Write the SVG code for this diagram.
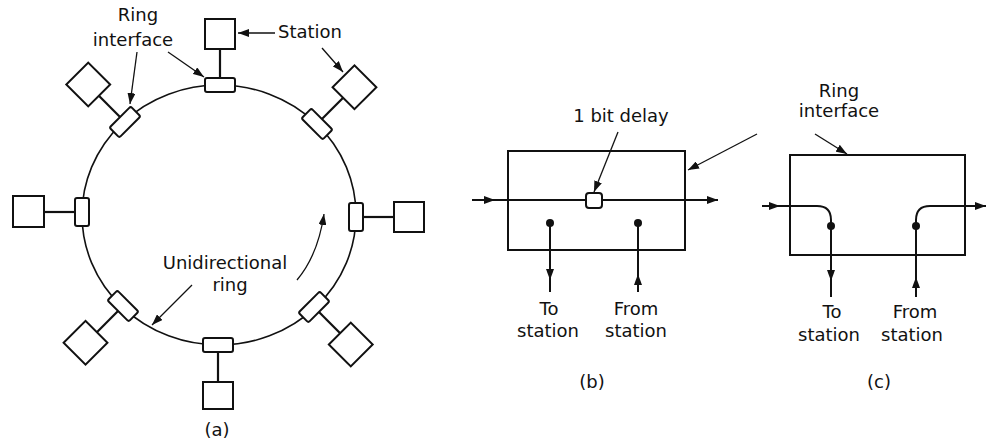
<svg xmlns="http://www.w3.org/2000/svg" width="990" height="445" viewBox="0 0 990 445">
<defs>
<style>
.t{font-family:"DejaVu Sans","Liberation Sans",sans-serif;font-size:18px;fill:#111}
.m{text-anchor:middle}
.ring{fill:none;stroke:#111;stroke-width:1.6}
.ifc{fill:#fff;stroke:#111;stroke-width:2}
.st{fill:#fff;stroke:#111;stroke-width:2}
.lnk{stroke:#111;stroke-width:2.2}
.ld{fill:none;stroke:#111;stroke-width:1.3}
.ar{fill:none;stroke:#111;stroke-width:2}
.box{fill:none;stroke:#111;stroke-width:2}
.dot{fill:#111}
</style>
<marker id="ah" markerUnits="userSpaceOnUse" markerWidth="11" markerHeight="8" refX="11" refY="4" orient="auto"><path d="M0,0 L11,4 L0,8 z" fill="#111"/></marker>
</defs>
<rect width="990" height="445" fill="#fff"/>

<g id="ring"><ellipse class="ring" cx="219" cy="215" rx="137" ry="130"/></g>

<g id="station-top" transform="translate(220,85)"><line class="lnk" x1="0" y1="-7" x2="0" y2="-36"/><rect class="ifc" x="-15" y="-7" width="30" height="14" rx="2"/><rect class="st" x="-15" y="-66" width="30" height="30"/></g>
<g id="station-upper-right" transform="translate(317,124) rotate(45)"><line class="lnk" x1="0" y1="-7" x2="0" y2="-37"/><rect class="ifc" x="-15" y="-7" width="30" height="14" rx="2"/><rect class="st" x="-15" y="-68" width="31" height="31"/></g>
<g id="station-right" transform="translate(356,217) rotate(90)"><line class="lnk" x1="0" y1="-7" x2="0" y2="-38"/><rect class="ifc" x="-14" y="-7" width="28" height="14" rx="2"/><rect class="st" x="-15" y="-68" width="30" height="30"/></g>
<g id="station-lower-right" transform="translate(314,307) rotate(135)"><line class="lnk" x1="0" y1="-7" x2="0" y2="-37"/><rect class="ifc" x="-15" y="-7" width="30" height="14" rx="2"/><rect class="st" x="-15" y="-68" width="31" height="31"/></g>
<g id="station-bottom" transform="translate(218,345) rotate(180)"><line class="lnk" x1="0" y1="-7" x2="0" y2="-37"/><rect class="ifc" x="-15" y="-7" width="30" height="14" rx="2"/><rect class="st" x="-15" y="-64" width="30" height="27"/></g>
<g id="station-lower-left" transform="translate(123,306) rotate(-135)"><line class="lnk" x1="0" y1="-7" x2="0" y2="-37"/><rect class="ifc" x="-15" y="-7" width="30" height="14" rx="2"/><rect class="st" x="-15" y="-68" width="31" height="31"/></g>
<g id="station-left" transform="translate(82,212) rotate(-90)"><line class="lnk" x1="0" y1="-7" x2="0" y2="-38"/><rect class="ifc" x="-14" y="-7" width="28" height="14" rx="2"/><rect class="st" x="-15" y="-69" width="31" height="31"/></g>
<g id="station-upper-left" transform="translate(125,122) rotate(-45)"><line class="lnk" x1="0" y1="-7" x2="0" y2="-37"/><rect class="ifc" x="-15" y="-7" width="30" height="14" rx="2"/><rect class="st" x="-15" y="-68" width="31" height="31"/></g>

<g id="labels-a">
<text class="t m" x="138" y="21">Ring</text>
<text class="t m" x="133" y="46">interface</text>
<text class="t" x="278" y="38">Station</text>
<text class="t m" x="225" y="269">Unidirectional</text>
<text class="t m" x="230" y="291">ring</text>
<text class="t m" x="217" y="436">(a)</text>
</g>

<g id="panel-b">
<rect class="box" x="508" y="151" width="177" height="99"/>
<rect class="ifc" x="586" y="193" width="16" height="15" rx="3"/>
<circle class="dot" cx="550" cy="223" r="4"/>
<circle class="dot" cx="638" cy="223" r="4"/>
<text class="t m" x="621" y="122">1 bit delay</text>
<text class="t m" x="839" y="97">Ring</text>
<text class="t m" x="839" y="117">interface</text>
<text class="t m" x="549" y="315">To</text>
<text class="t m" x="548" y="337">station</text>
<text class="t m" x="636" y="315">From</text>
<text class="t m" x="636" y="337">station</text>
<text class="t m" x="592" y="388">(b)</text>
</g>

<g id="panel-c">
<rect class="box" x="790" y="155" width="175" height="100"/>
<circle class="dot" cx="831" cy="226" r="4"/>
<circle class="dot" cx="916" cy="226" r="4"/>
<text class="t m" x="832" y="318">To</text>
<text class="t m" x="829" y="341">station</text>
<text class="t m" x="915" y="318">From</text>
<text class="t m" x="912" y="341">station</text>
<text class="t m" x="879" y="388">(c)</text>
</g>

<g id="connectors">
<line class="ld" x1="275" y1="33" x2="238" y2="33" marker-end="url(#ah)"/>
<line class="ld" x1="322" y1="48" x2="343" y2="72" marker-end="url(#ah)"/>
<line class="ld" x1="137" y1="52" x2="130" y2="104" marker-end="url(#ah)"/>
<line class="ld" x1="168" y1="52" x2="204" y2="77" marker-end="url(#ah)"/>
<line class="ld" x1="192" y1="285" x2="152" y2="325" marker-end="url(#ah)"/>
<path class="ld" d="M297,280 Q318,255 324,214" marker-end="url(#ah)"/>
<line class="ld" x1="618" y1="132" x2="594" y2="192" marker-end="url(#ah)"/>
<line class="ld" x1="757" y1="134" x2="688" y2="170" marker-end="url(#ah)"/>
<line class="ld" x1="815" y1="134" x2="847" y2="154" marker-end="url(#ah)"/>
<!-- panel b flow -->
<line class="ar" x1="472" y1="200" x2="495" y2="200" marker-end="url(#ah)"/>
<line class="ar" x1="494" y1="200" x2="586" y2="200"/>
<line class="ar" x1="602" y1="200" x2="718" y2="200" marker-end="url(#ah)"/>
<line class="ar" x1="550" y1="223" x2="550" y2="280" marker-end="url(#ah)"/>
<line class="ar" x1="550" y1="279" x2="550" y2="292"/>
<line class="ar" x1="638" y1="292" x2="638" y2="274" marker-end="url(#ah)"/>
<line class="ar" x1="638" y1="275" x2="638" y2="223"/>
<!-- panel c flow -->
<line class="ar" x1="762" y1="206" x2="780" y2="206" marker-end="url(#ah)"/>
<path class="ar" d="M779,206 H817 Q831,206 831,220 V297"/>
<line class="ar" x1="831" y1="262" x2="831" y2="281" marker-end="url(#ah)"/>
<path class="ar" d="M916,297 V220 Q916,206 930,206 H975"/>
<line class="ar" x1="974" y1="206" x2="986" y2="206" marker-end="url(#ah)"/>
<line class="ar" x1="916" y1="297" x2="916" y2="277" marker-end="url(#ah)"/>
</g>
</svg>
